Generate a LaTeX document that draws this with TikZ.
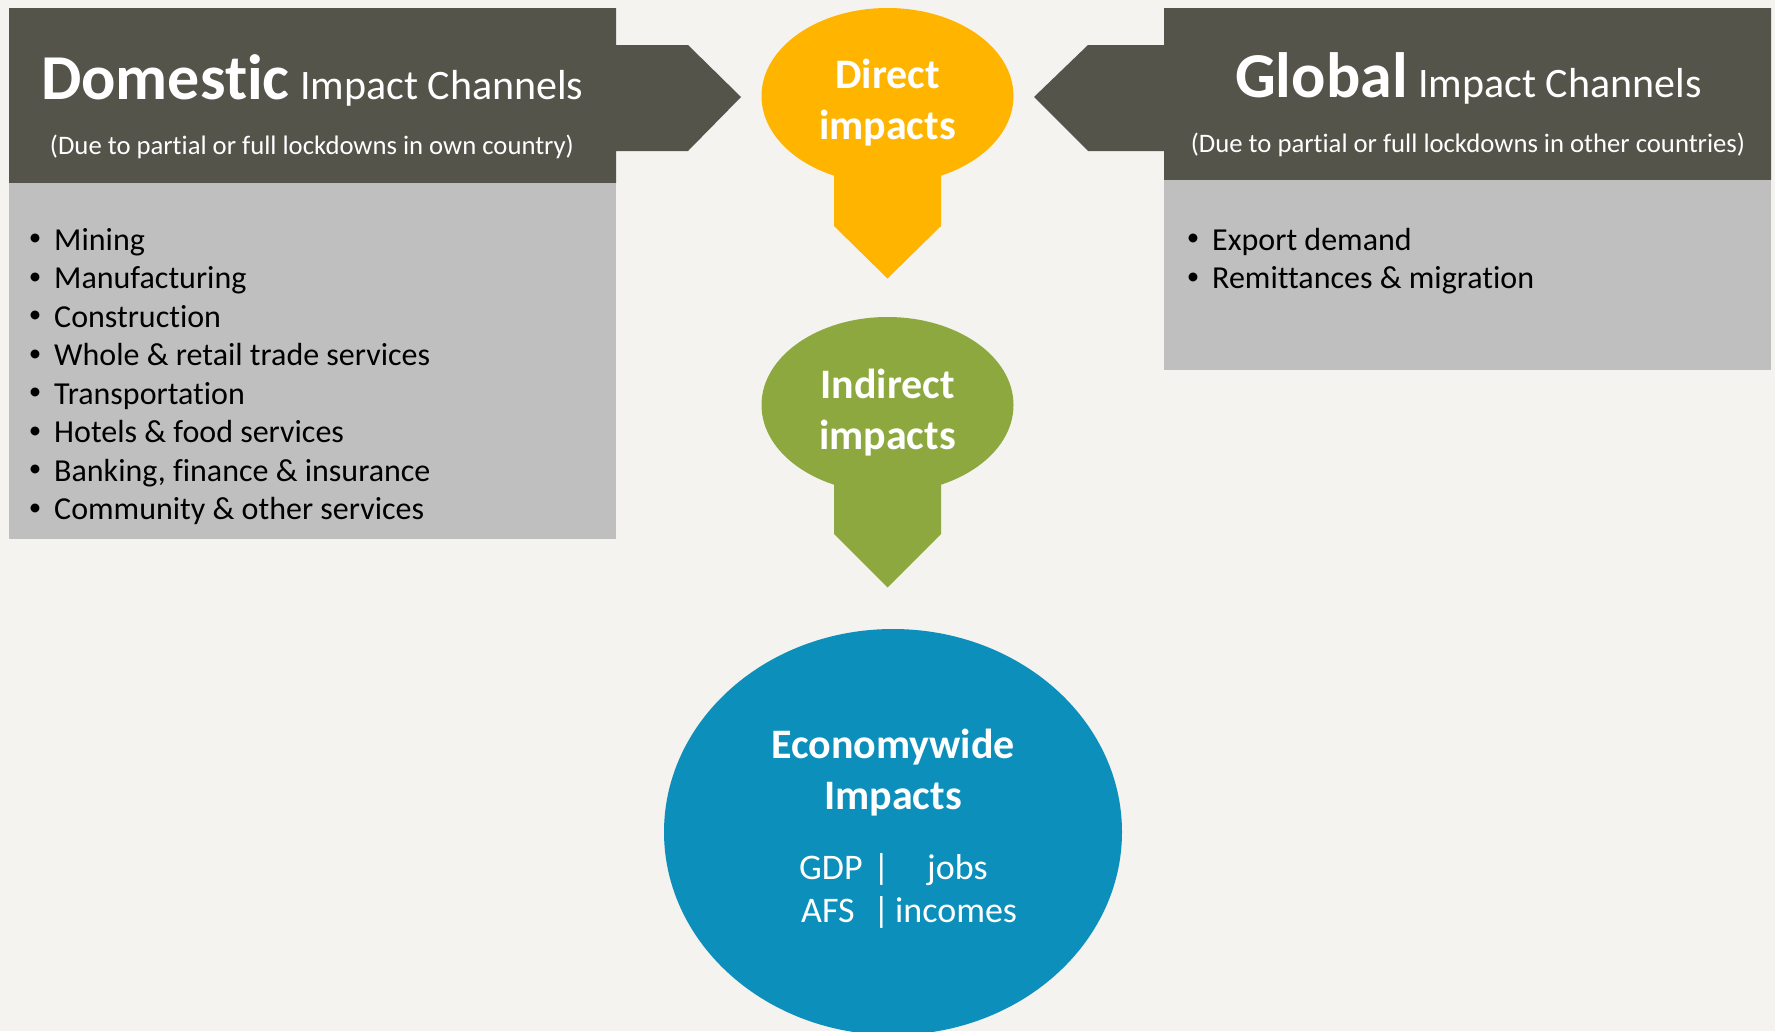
\documentclass[tikz,border=0pt]{standalone}
\usepackage{fontspec}
\setmainfont[Ligatures=CommonOff]{Carlito}
\definecolor{bgc}{HTML}{F4F3EF}
\definecolor{darkc}{HTML}{54544A}
\definecolor{greyc}{HTML}{BFBFBF}
\definecolor{orangec}{HTML}{FFB400}
\definecolor{greenc}{HTML}{8CA83E}
\definecolor{bluec}{HTML}{0C8FBA}
\begin{document}
\begin{tikzpicture}[x=1pt,y=-1pt,
  bigtitle/.style={font=\fontsize{64}{70}\selectfont\bfseries, text=white, inner sep=0pt, anchor=base west},
  smalltitle/.style={font=\fontsize{42}{48}\selectfont, text=white, inner sep=0pt, anchor=base west},
  subtitle/.style={font=\fontsize{26.7}{32}\selectfont, text=white, inner sep=0pt, anchor=base},
  bul/.style={font=\fontsize{32}{38}\selectfont, text=black, inner sep=0pt, anchor=base west},
  bulmark/.style={font=\fontsize{25}{30}\selectfont, text=black, inner sep=0pt, anchor=base, yshift=4.5pt},
  bubbletext/.style={font=\fontsize{42}{51}\selectfont\bfseries, text=white, align=center, inner sep=0pt},
  econtext/.style={font=\fontsize{36}{42}\selectfont, text=white, inner sep=0pt, anchor=base west}]
\useasboundingbox (0,0) rectangle (1775,1031);
\fill[bgc] (0,0) rectangle (1775,1031);
% left header with arrow
\fill[darkc] (9,8) -- (616,8) -- (616,45) -- (688,45) -- (741,97) -- (688,151) -- (616,151) -- (616,183) -- (9,183) -- cycle;
\fill[greyc] (9,183) rectangle (616,539);
% right header with arrow
\fill[darkc] (1771,8) -- (1164,8) -- (1164,45) -- (1088,45) -- (1034,97) -- (1088,151) -- (1164,151) -- (1164,180) -- (1771,180) -- cycle;
\fill[greyc] (1164,180) rectangle (1771,370);
% Direct impacts bubble
\fill[orangec] (887.5,96) ellipse [x radius=126, y radius=88];
\fill[orangec] (834,160) -- (941,160) -- (941,226) -- (887.5,278.5) -- (834,226) -- cycle;
% Indirect impacts bubble
\fill[greenc] (887.5,405) ellipse [x radius=126, y radius=88];
\fill[greenc] (834,470) -- (941,470) -- (941,534) -- (887.5,587.5) -- (834,534) -- cycle;
% Economywide ellipse
\fill[bluec] (893,832) ellipse [x radius=229, y radius=203];

% Left texts
\node[bigtitle] (dom) at (41,99) {Domestic};
\node[smalltitle] (domic) at ([xshift=10pt]dom.base east) {Impact Channels};
\node[subtitle] (domsub) at (312,154) {(Due to partial or full lockdowns in own country)};
\foreach \t [count=\i from 0] in {Mining,Manufacturing,Construction,Whole \& retail trade services,Transportation,Hotels \& food services,{Banking, finance \& insurance},Community \& other services}{
  \node[bulmark] (lb\i) at (35,250+38.5*\i) {•};
  \node[bul] (lt\i) at (54,250+38.5*\i) {\t};
}
% Right texts
\node[bigtitle] (glob) at (1235,97) {Global};
\node[smalltitle] (globic) at ([xshift=10pt]glob.base east) {Impact Channels};
\node[subtitle] (globsub) at (1468,152) {(Due to partial or full lockdowns in other countries)};
\node[bulmark] (rb0) at (1193,250) {•};
\node[bul] (rt0) at (1212,250) {Export demand};
\node[bulmark] (rb1) at (1193,288.5) {•};
\node[bul] (rt1) at (1212,288.5) {Remittances \& migration};

% Bubble texts
\node[bubbletext] (direct) at (887.5,102.5) {Direct\\impacts};
\node[bubbletext] (indirect) at (887.5,412.5) {Indirect\\impacts};
\node[bubbletext] (econ) at (893,772.5) {Economywide\\Impacts};
\node[econtext] (gdp) at (799,879) {GDP};
\node[econtext] (bar1) at (873,879) {|};
\node[econtext] (jobs) at (927,879) {jobs};
\node[econtext] (afs) at (801,922) {AFS};
\node[econtext] (bar2) at (873,922) {|};
\node[econtext] (inc) at (895,922) {incomes};
\end{tikzpicture}
\end{document}
